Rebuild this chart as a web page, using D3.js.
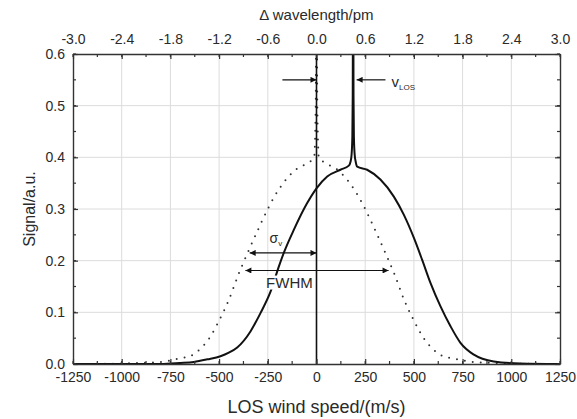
<!DOCTYPE html>
<html lang="en">
  <head>
    <meta charset="UTF-8" />
    <title>LOS wind speed spectrum</title>
    <style>
      * {
        margin: 0;
        padding: 0;
      }
      body {
        background: #fff;
      }
      text {
        font-family: 'Liberation Sans', Arial, sans-serif;
        fill: #2a2a2a;
      }
    </style>
  </head>
  <body>
    <script src="https://cdn.jsdelivr.net/npm/d3@7"></script>
    <script>
      // ticks
      const speedTicks = [-1250, -1000, -750, -500, -250, 0, 250, 500, 750, 1000, 1250]
      const waveTicks = [-3.0, -2.4, -1.8, -1.2, -0.6, 0.0, 0.6, 1.2, 1.8, 2.4, 3.0]
      const signalTicks = [0, 0.1, 0.2, 0.3, 0.4, 0.5, 0.6]

      // dotted spectrum (no wind)
      const refSpeed = [-1250, -1000, -900, -800, -750, -700, -650, -600, -550, -500, -450, -400, -350, -300, -250, -200, -150, -100, -50, -12, -4, 0, 4, 12, 50, 100, 150, 200, 250, 300, 350, 400, 450, 500, 550, 600, 650, 700, 750, 800, 900, 1000, 1250]
      const refSignal = [0, 0.001, 0.002, 0.004, 0.007, 0.011, 0.015, 0.028, 0.05, 0.084, 0.124, 0.174, 0.218, 0.26, 0.3, 0.334, 0.36, 0.378, 0.388, 0.4, 0.5, 0.9, 0.5, 0.4, 0.388, 0.378, 0.36, 0.334, 0.3, 0.26, 0.218, 0.174, 0.124, 0.084, 0.05, 0.028, 0.015, 0.011, 0.007, 0.004, 0.002, 0.001, 0]

      // solid spectrum (shifted by v_LOS)
      const losSpeed = [-1250, -800, -700, -630, -560, -493, -450, -407, -339, -287, -236, -193, -168, -116, -50, 0, 55, 123, 166, 175, 180, 184, 186, 188, 190, 192, 196, 201, 209, 260, 328, 397, 448, 500, 542, 585, 636, 688, 739, 808, 910, 1047, 1250]
      const losSignal = [0, 0, 0.002, 0.004, 0.009, 0.015, 0.022, 0.032, 0.063, 0.099, 0.14, 0.189, 0.215, 0.26, 0.31, 0.34, 0.363, 0.376, 0.384, 0.392, 0.405, 0.44, 0.52, 0.9, 0.52, 0.44, 0.405, 0.392, 0.382, 0.376, 0.357, 0.324, 0.289, 0.244, 0.202, 0.157, 0.112, 0.073, 0.041, 0.018, 0.005, 0.001, 0]

      // annotations [from, to, signal]
      const arrows = [
        { x1: -175, x2: 0, y: 0.55, both: false },
        { x1: 354, x2: 206, y: 0.55, both: false },
        { x1: -343, x2: 0, y: 0.215, both: true },
        { x1: -365, x2: 370, y: 0.181, both: true }
      ]

      const W = 577
      const H = 419
      const margin = { top: 54, right: 17, bottom: 55, left: 73 }

      const svg = d3.select('body').append('svg').attr('width', W).attr('height', H)

      const x = d3.scaleLinear().domain([-1250, 1250]).range([margin.left, W - margin.right])
      const xw = d3.scaleLinear().domain([-3, 3]).range([margin.left, W - margin.right])
      const y = d3.scaleLinear().domain([0, 0.6]).range([H - margin.bottom, margin.top])

      const minorX = d3.range(-1250, 1251, 125)
      const minorY = d3.range(0, 0.601, 0.05)

      // plain hyphen for the minus sign, like the original
      const fmt = f => d => d3.format(f)(d).replace('−', '-')

      // grid
      svg.append('g')
        .selectAll('line.gx')
        .data(speedTicks.slice(1, -1))
        .join('line')
        .attr('x1', d => x(d)).attr('x2', d => x(d))
        .attr('y1', y(0)).attr('y2', y(0.6))
        .attr('stroke', '#dcdcdc')
      svg.append('g')
        .selectAll('line.gy')
        .data(signalTicks.slice(1, -1))
        .join('line')
        .attr('x1', x(-1250)).attr('x2', x(1250))
        .attr('y1', d => y(d)).attr('y2', d => y(d))
        .attr('stroke', '#dcdcdc')

      svg.append('defs').append('clipPath').attr('id', 'clip')
        .append('rect')
        .attr('x', x(-1250)).attr('y', y(0.6))
        .attr('width', x(1250) - x(-1250)).attr('height', y(0) - y(0.6))

      const plot = svg.append('g').attr('clip-path', 'url(#clip)')

      const ref = refSpeed.map((v, i) => [v, refSignal[i]])
      const los = losSpeed.map((v, i) => [v, losSignal[i]])
      const line = d3.line().x(d => x(d[0])).y(d => y(d[1])).curve(d3.curveMonotoneX)

      plot.append('path')
        .attr('d', line(ref))
        .attr('fill', 'none')
        .attr('stroke', '#333')
        .attr('stroke-width', 2)
        .attr('stroke-linecap', 'round')
        .attr('stroke-dasharray', '0 8')

      // zero line
      plot.append('line')
        .attr('x1', x(0)).attr('x2', x(0))
        .attr('y1', y(0)).attr('y2', y(0.6))
        .attr('stroke', '#111')
        .attr('stroke-width', 1.6)

      plot.append('path')
        .attr('d', line(los))
        .attr('fill', 'none')
        .attr('stroke', '#111')
        .attr('stroke-width', 2)
        .attr('stroke-linejoin', 'round')

      // arrows
      const defs = svg.select('defs')
      defs.append('marker')
        .attr('id', 'head')
        .attr('viewBox', '0 0 10 10')
        .attr('refX', 10).attr('refY', 5)
        .attr('markerWidth', 9).attr('markerHeight', 6)
        .attr('markerUnits', 'userSpaceOnUse')
        .attr('orient', 'auto-start-reverse')
        .append('path')
        .attr('d', 'M0,0L10,5L0,10Z')
        .attr('fill', '#111')

      svg.append('g')
        .selectAll('line')
        .data(arrows)
        .join('line')
        .attr('x1', d => x(d.x1)).attr('x2', d => x(d.x2))
        .attr('y1', d => y(d.y)).attr('y2', d => y(d.y))
        .attr('stroke', '#111')
        .attr('stroke-width', 1.2)
        .attr('marker-end', 'url(#head)')
        .attr('marker-start', d => (d.both ? 'url(#head)' : null))

      // FWHM label (white box hides the curve behind it)
      const fw = svg.append('g')
      fw.append('rect')
        .attr('x', x(-139) - 25).attr('y', y(0.148) - 12)
        .attr('width', 50).attr('height', 14)
        .attr('fill', '#fff')
      fw.append('text')
        .attr('x', x(-139)).attr('y', y(0.148))
        .attr('text-anchor', 'middle')
        .attr('font-size', 15)
        .text('FWHM')

      const sig = svg.append('text').attr('x', x(-241)).attr('y', y(0.235)).attr('font-size', 14)
      sig.append('tspan').text('σ')
      sig.append('tspan').attr('font-size', 8).attr('dy', 3).text('v')

      const vlos = svg.append('text').attr('x', x(385)).attr('y', y(0.537)).attr('font-size', 15)
      vlos.append('tspan').text('v')
      vlos.append('tspan').attr('font-size', 8).attr('dy', 3).text('LOS')

      // axes
      const axisStyle = g => {
        g.select('.domain').attr('stroke', '#333').attr('stroke-width', 1.4)
        g.selectAll('.tick line').attr('stroke', '#333').attr('stroke-width', 1.2)
        g.selectAll('text').attr('font-size', 14).attr('fill', '#2a2a2a')
          .attr('font-family', "'Liberation Sans', Arial, sans-serif")
      }
      const minor = (g, scale, vals, orient) => {
        g.selectAll('line.minor')
          .data(vals)
          .join('line')
          .attr('class', 'minor')
          .attr('stroke', '#333')
          .attr('stroke-width', 1.2)
          .each(function (d) {
            const s = d3.select(this)
            if (orient === 'bottom') s.attr('x1', scale(d)).attr('x2', scale(d)).attr('y1', 0).attr('y2', -3)
            if (orient === 'top') s.attr('x1', scale(d)).attr('x2', scale(d)).attr('y1', 0).attr('y2', 3)
            if (orient === 'left') s.attr('y1', scale(d)).attr('y2', scale(d)).attr('x1', 0).attr('x2', 3)
            if (orient === 'right') s.attr('y1', scale(d)).attr('y2', scale(d)).attr('x1', 0).attr('x2', -3)
          })
      }

      svg.append('g')
        .attr('transform', `translate(0,${y(0)})`)
        .call(d3.axisBottom(x).tickValues(speedTicks).tickSize(-5).tickPadding(8).tickSizeOuter(0).tickFormat(fmt('d')))
        .call(axisStyle)
        .call(g => minor(g, x, minorX, 'bottom'))

      svg.append('g')
        .attr('transform', `translate(0,${y(0.6)})`)
        .call(d3.axisTop(xw).tickValues(waveTicks).tickSize(-5).tickPadding(10).tickSizeOuter(0).tickFormat(fmt('.1f')))
        .call(axisStyle)
        .call(g => minor(g, xw, d3.range(-3, 3.01, 0.3), 'top'))

      svg.append('g')
        .attr('transform', `translate(${x(-1250)},0)`)
        .call(d3.axisLeft(y).tickValues(signalTicks).tickSize(-5).tickPadding(8).tickSizeOuter(0).tickFormat(fmt('.1f')))
        .call(axisStyle)
        .call(g => minor(g, y, minorY, 'left'))

      svg.append('g')
        .attr('transform', `translate(${x(1250)},0)`)
        .call(d3.axisRight(y).tickValues(signalTicks).tickSize(-5).tickSizeOuter(0).tickFormat(''))
        .call(axisStyle)
        .call(g => minor(g, y, minorY, 'right'))

      // titles
      svg.append('text')
        .attr('x', (x(-1250) + x(1250)) / 2).attr('y', 413)
        .attr('text-anchor', 'middle').attr('font-size', 18)
        .text('LOS wind speed/(m/s)')

      svg.append('text')
        .attr('x', (x(-1250) + x(1250)) / 2).attr('y', 20)
        .attr('text-anchor', 'middle').attr('font-size', 15)
        .text('Δ wavelength/pm')

      svg.append('text')
        .attr('transform', `translate(35,${(y(0) + y(0.6)) / 2}) rotate(-90)`)
        .attr('text-anchor', 'middle').attr('font-size', 16)
        .text('Signal/a.u.')
    </script>
  </body>
</html>
